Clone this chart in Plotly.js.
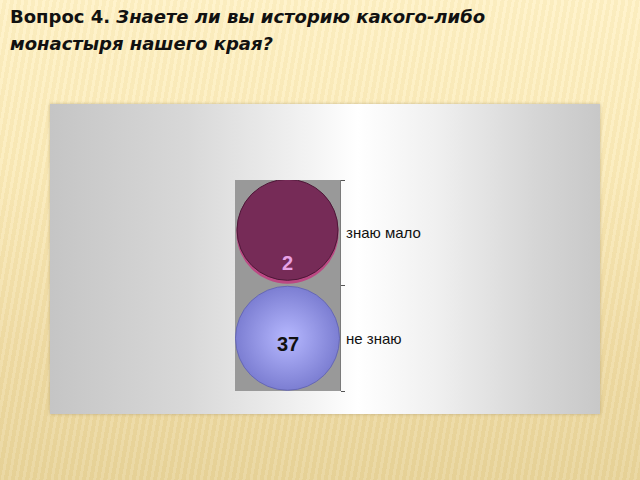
<!DOCTYPE html>
<html>
<head>
<meta charset="utf-8">
<script src="https://cdn.plot.ly/plotly-3.0.1.min.js"></script>
<style>
html,body{margin:0;padding:0;}
body{width:640px;height:480px;position:relative;overflow:hidden;
 background:
  repeating-linear-gradient(100deg, rgba(255,255,255,0.10) 0px, rgba(255,255,255,0.10) 3px, rgba(200,170,100,0.07) 3px, rgba(200,170,100,0.07) 7px),
  linear-gradient(to bottom, #fff2c6 0%, #fbebb9 35%, #efdba4 75%, #e8d49a 100%);}
#panel{position:absolute;left:50px;top:104px;width:550px;height:310px;
 background:linear-gradient(to right,#c5c5c5 0%,#d8d8d8 25%,#f4f4f4 48%,#ffffff 56%,#f0f0f0 70%,#d6d6d6 88%,#c8c8c8 100%);
 box-shadow:0 0 3px rgba(150,130,90,0.5);}
#chart{position:absolute;left:0;top:0;width:640px;height:480px;}
</style>
</head>
<body>
<div id="panel"></div>
<div id="chart"></div>
<script>
const categories = ['знаю мало', 'не знаю'];
const values = [2, 37];
const titleLine1 = '<b>Вопрос 4. <i>Знаете ли вы историю какого-либо</i></b>';
const titleLine2 = '<b><i>монастыря нашего края?</i></b>';

const center = categories.map(() => 0);

const rim = {
  type: 'scatter', mode: 'markers',
  x: [center[0]], y: [categories[0]],
  marker: {size: 102, color: '#bb4883', line: {width: 0}},
  hoverinfo: 'skip', showlegend: false
};
const bottomFace = {
  type: 'scatter', mode: 'markers',
  x: [center[1]], y: [categories[1]],
  marker: {size: 104, color: '#7c7ed2', gradient: {type: 'radial', color: '#b6b8ff'},
           line: {width: 1, color: '#6668b4'}},
  showlegend: false
};
const topFace = {
  type: 'scatter', mode: 'markers',
  x: [center[0]], y: [categories[0]], yaxis: 'y2',
  marker: {size: 101, color: '#762b57', line: {width: 1, color: '#4e1838'}},
  showlegend: false
};

const labelStyle = [
  {color: '#e7a2e6', yshift: -30},
  {color: '#111111', yshift: -6}
];
const valueAnn = values.map((v, i) => ({
  x: center[i], y: categories[i], xref: 'x', yref: 'y',
  text: '<b>' + v + '</b>', showarrow: false,
  yshift: labelStyle[i].yshift,
  font: {family: 'Liberation Sans, Arial, sans-serif', size: 20, color: labelStyle[i].color}
}));

const titleAnn = [
  {text: titleLine1, x: -2.162, y: 1.834},
  {text: titleLine2, x: -2.162, y: 1.705}
].map(a => Object.assign({
  xref: 'paper', yref: 'paper', xanchor: 'left', yanchor: 'top', showarrow: false,
  font: {family: 'DejaVu Sans, sans-serif', size: 18, color: '#111111'}
}, a));

const catOrder = categories.slice().reverse();
const layout = {
  width: 640, height: 480,
  margin: {l: 235, r: 300, t: 180, b: 89},
  paper_bgcolor: 'rgba(0,0,0,0)',
  plot_bgcolor: '#999999',
  xaxis: {range: [-1, 1], visible: false, fixedrange: true},
  yaxis: {type: 'category', categoryorder: 'array', categoryarray: catOrder,
          range: [-0.5, 1.5], side: 'right', showgrid: false, zeroline: false,
          showline: true, linecolor: '#7a7a7a', linewidth: 1,
          ticks: 'outside', tickson: 'boundaries', ticklen: 4, tickcolor: '#555',
          ticklabelstandoff: 2,
          tickfont: {family: 'Liberation Sans, Arial, sans-serif', size: 15, color: '#111'}},
  yaxis2: {type: 'category', categoryorder: 'array', categoryarray: catOrder,
           range: [-0.5 - 0.028, 1.5 - 0.028], overlaying: 'y', visible: false},
  annotations: titleAnn.concat(valueAnn)
};

Plotly.newPlot('chart', [rim, bottomFace, topFace], layout, {displayModeBar: false, staticPlot: true});
</script>
</body>
</html>
